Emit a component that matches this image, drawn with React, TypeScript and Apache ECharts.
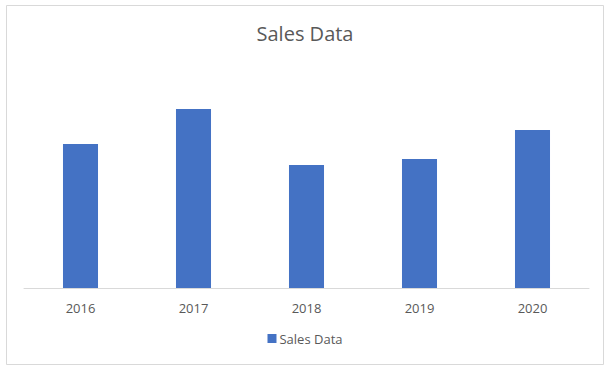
import React, { useEffect, useRef } from "react";
import * as echarts from "echarts";

const categories = ["2016", "2017", "2018", "2019", "2020"];
const salesValues = [144, 179, 123, 129, 158];
const seriesName = "Sales Data";
const titleText = "Sales Data";

export default function App() {
  const ref = useRef<HTMLDivElement>(null);
  useEffect(() => {
    document.body.style.margin = "0";
    const chart = echarts.init(ref.current!, null, { renderer: "svg" });
    const font = "Open Sans";
    chart.setOption({
      animation: false,
      backgroundColor: "#ffffff",
      title: {
        text: titleText,
        left: "center",
        top: 18,
        textStyle: { fontFamily: font, fontSize: 20, fontWeight: "normal", color: "#595959" },
      },
      legend: {
        bottom: 20,
        left: "center",
        itemWidth: 9,
        itemHeight: 9,
        icon: "rect",
        itemGap: 4,
        textStyle: { fontFamily: font, fontSize: 13, color: "#595959", padding: [0, 0, 0, -2] },
        data: [seriesName],
      },
      grid: { left: 24, right: 21, top: 88, bottom: 82, containLabel: false },
      xAxis: {
        type: "category",
        data: categories,
        axisLine: { lineStyle: { color: "#d9d9d9", width: 1 } },
        axisTick: { show: false },
        axisLabel: { fontFamily: font, fontSize: 13, color: "#595959", margin: 13 },
      },
      yAxis: {
        type: "value",
        min: 0,
        max: 200,
        show: false,
        splitLine: { show: false },
      },
      graphic: [
        {
          type: "rect",
          shape: { x: 6.5, y: 5.5, width: 597, height: 359 },
          style: { fill: "none", stroke: "#d9d9d9", lineWidth: 1 },
          silent: true,
        },
      ],
      series: [
        {
          name: seriesName,
          type: "bar",
          data: salesValues,
          barWidth: "31%",
          itemStyle: { color: "#4472c4" },
        },
      ],
    });
    return () => chart.dispose();
  }, []);
  return <div ref={ref} style={{ width: 610, height: 370 }} />;
}
